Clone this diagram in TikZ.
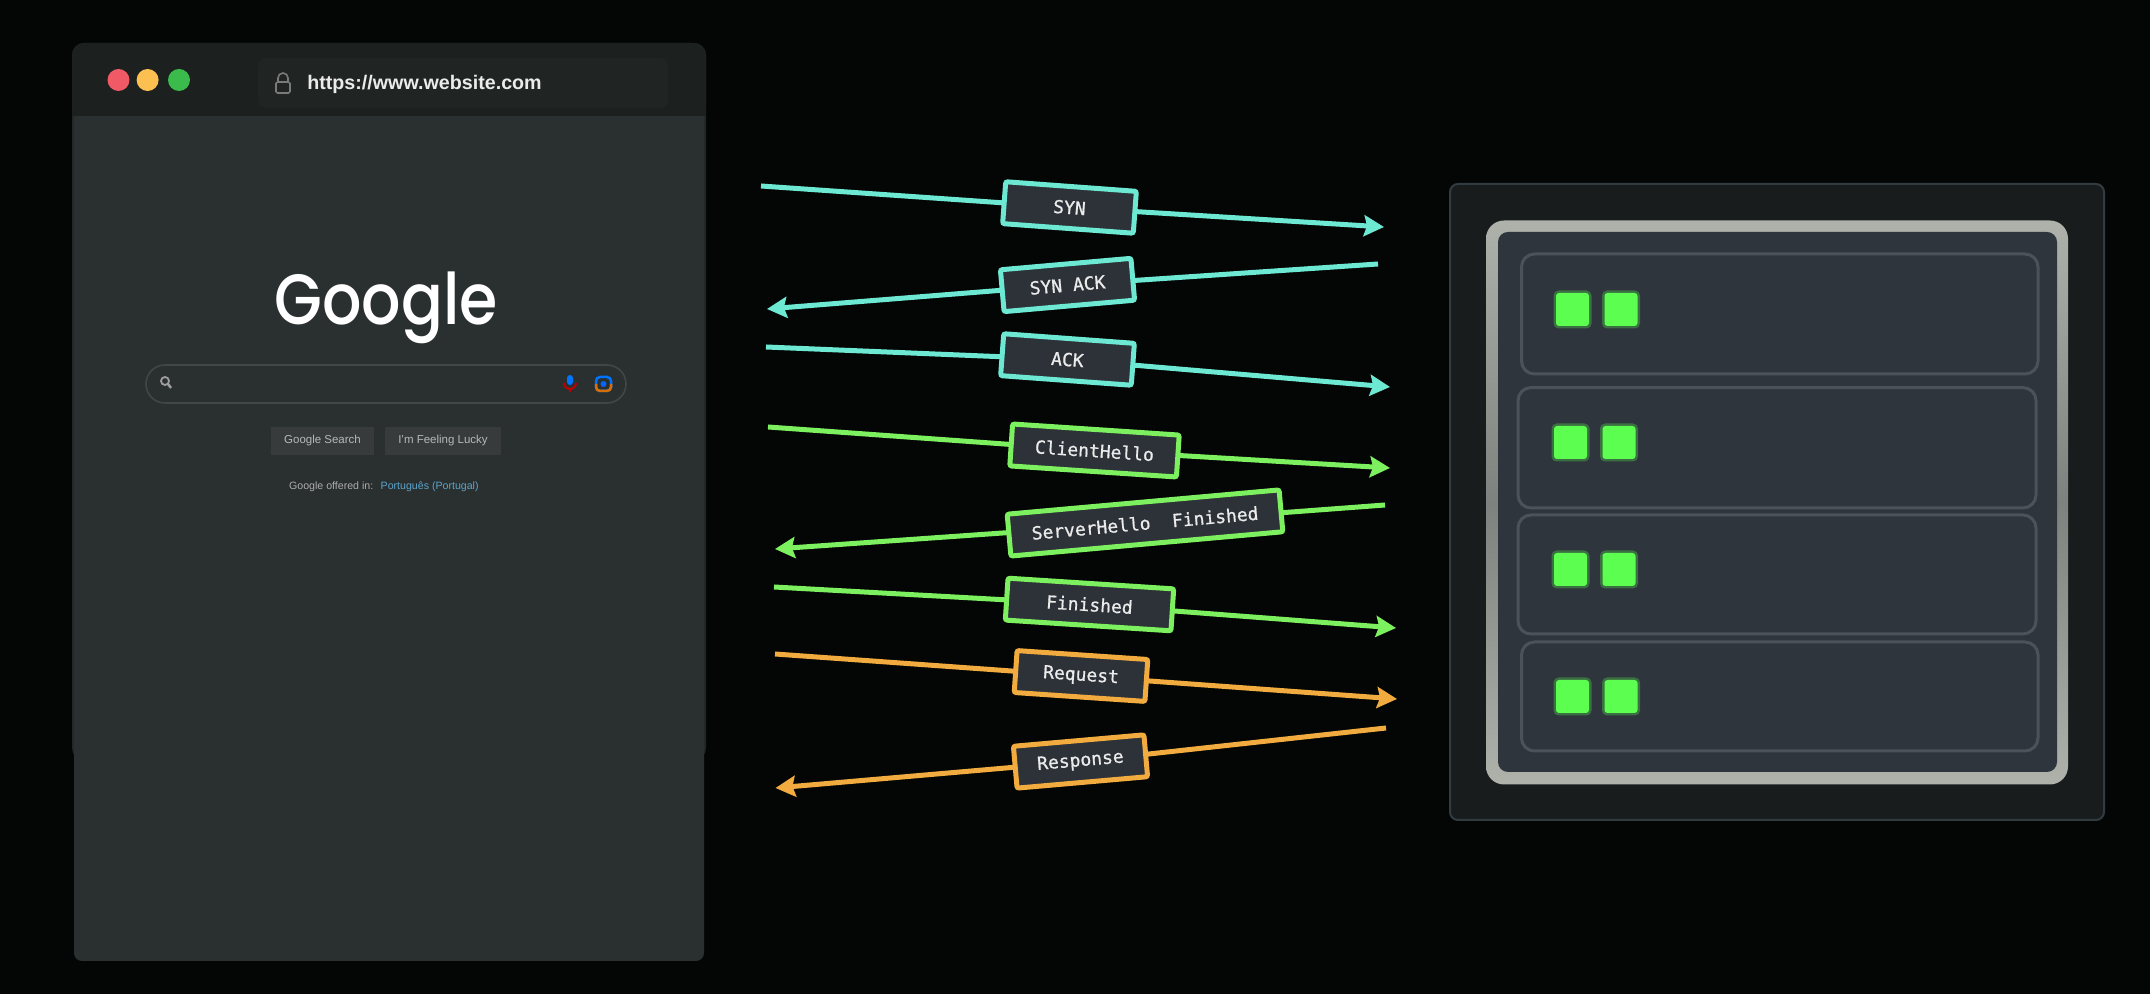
\documentclass[tikz,border=0pt]{standalone}
\usepackage{fontspec}
\setmainfont{Liberation Sans}
\setmonofont{DejaVu Sans Mono}
\newfontfamily\logofont{Poppins Medium}
\newfontfamily\pktfont{DejaVu Sans Mono}[FakeBold=0.8]
\usetikzlibrary{arrows.meta}

\definecolor{pagebg}{HTML}{040606}
\definecolor{browserbody}{HTML}{2A2F2F}
\definecolor{browsertop}{HTML}{1C201F}
\definecolor{browseredge}{HTML}{222727}
\definecolor{urlbg}{HTML}{202423}
\definecolor{btnbg}{HTML}{373B3B}
\definecolor{barline}{HTML}{414646}
\definecolor{closered}{HTML}{F05A66}
\definecolor{minyellow}{HTML}{FBC04F}
\definecolor{zoomgreen}{HTML}{3BBB4B}
\definecolor{rackouter}{HTML}{181C1C}
\definecolor{rackedge}{HTML}{323C40}
\definecolor{rackinner}{HTML}{2E353C}
\definecolor{slotedge}{HTML}{4C525A}
\definecolor{metallight}{HTML}{AEB2AB}
\definecolor{metaldark}{HTML}{7E827E}
\definecolor{ledgreen}{HTML}{5CFF50}
\definecolor{pktbg}{HTML}{2D3238}
\definecolor{tcpcol}{HTML}{6DE8D2}
\definecolor{tlscol}{HTML}{7DF05F}
\definecolor{httpcol}{HTML}{F2AB3E}

\tikzset{
  pkt/.style={draw, fill=pktbg, line width=0.05cm, rounded corners=0.02cm, inner sep=0cm, outer sep=0cm,
    minimum width=1.31cm, minimum height=0.42cm, text=white!92!black,
    font=\pktfont\fontsize{5.12pt}{6pt}\selectfont},
  wire/.style={line width=0.05cm},
  wirearrow/.style={wire, -{Stealth[length=0.2cm,width=0.21cm,inset=0.03cm]}},
  rackslot/.style={draw=slotedge, fill=rackinner, line width=0.03cm, rounded corners=0.13cm},
  led/.style={fill=ledgreen, rounded corners=0.03cm, minimum width=0.33cm, minimum height=0.33cm, inner sep=0cm,
    preaction={draw=ledgreen, opacity=0.3, line width=0.05cm}},
  dot/.style={circle, minimum size=0.22cm, inner sep=0cm},
  btn/.style={fill=btnbg, text=white!72!black, inner sep=0cm, minimum height=0.28cm,
    font=\fontsize{3.27pt}{4pt}\selectfont},
  smalltext/.style={inner sep=0cm, font=\fontsize{3.02pt}{4pt}\selectfont},
}

\begin{document}
\begin{tikzpicture}
  \useasboundingbox (0cm,0cm) rectangle (21.5cm,-9.94cm);
  \fill[pagebg] (0cm,0cm) rectangle (21.5cm,-9.94cm);

  % browser window
  \fill[browseredge, rounded corners=0.12cm] (0.72cm,-0.43cm) rectangle (7.06cm,-7.6cm);
  \fill[browserbody, rounded corners=0.08cm] (0.74cm,-1cm) rectangle (7.04cm,-9.61cm);
  \fill[browsertop, rounded corners=0.12cm] (0.72cm,-0.43cm) rectangle (7.06cm,-1.16cm);
  \fill[browsertop] (0.72cm,-0.9cm) rectangle (7.06cm,-1.16cm);
  \node[dot, fill=closered] (closedot) at (1.185cm,-0.8cm) {};
  \node[dot, fill=minyellow] (minimizedot) at (1.476cm,-0.8cm) {};
  \node[dot, fill=zoomgreen] (zoomdot) at (1.79cm,-0.8cm) {};
  \fill[urlbg, rounded corners=0.08cm] (2.58cm,-0.58cm) rectangle (6.68cm,-1.08cm);
  \draw[white!48!black, line width=0.016cm, rounded corners=0.015cm] (2.76cm,-0.82cm) rectangle (2.9cm,-0.93cm);
  \draw[white!48!black, line width=0.016cm] (2.78cm,-0.82cm) -- (2.78cm,-0.78cm) arc (180:0:0.05cm) -- (2.88cm,-0.82cm);
  \node[text=white!92!black, inner sep=0cm, font=\bfseries\fontsize{5.6pt}{7pt}\selectfont] (urltext) at (4.245cm,-0.84cm) {https://www.website.com};

  % search page
  \node[text=white, inner sep=0cm, anchor=base, yscale=1.15, transform shape, font=\logofont\fontsize{17.6pt}{22pt}\selectfont] (logotext) at (3.86cm,-3.25cm) {Google};
  \filldraw[fill=browserbody, draw=barline, line width=0.016cm, rounded corners=0.19cm] (1.46cm,-3.65cm) rectangle (6.26cm,-4.03cm);
  \draw[white!62!black, line width=0.018cm] (1.65cm,-3.81cm) circle (0.04cm);
  \draw[white!62!black, line width=0.025cm] (1.68cm,-3.84cm) -- (1.71cm,-3.88cm);
  \fill[blue!55!cyan, rounded corners=0.03cm] (5.67cm,-3.75cm) rectangle (5.73cm,-3.85cm);
  \draw[red!75!black, line width=0.02cm] (5.64cm,-3.83cm) arc (180:360:0.06cm);
  \draw[red!75!black, line width=0.02cm] (5.7cm,-3.89cm) -- (5.7cm,-3.92cm);
  \filldraw[fill=browserbody, draw=blue!55!cyan, line width=0.025cm, rounded corners=0.04cm] (5.96cm,-3.77cm) rectangle (6.11cm,-3.91cm);
  \draw[orange!80!browserbody, line width=0.025cm, rounded corners=0.04cm] (5.96cm,-3.84cm) |- (6.11cm,-3.91cm) -- (6.11cm,-3.84cm);
  \fill[blue!60!cyan] (6.035cm,-3.84cm) circle (0.03cm);
  \node[btn, minimum width=1.03cm] (searchbtn) at (3.225cm,-4.41cm) {Google Search};
  \node[btn, minimum width=1.16cm] (luckybtn) at (4.43cm,-4.41cm) {I'm Feeling Lucky};
  \node[smalltext, text=white!68!black, anchor=east] (offertext) at (3.74cm,-4.87cm) {Google offered in:};
  \node[smalltext, text=blue!35!cyan!55!white!80!black, anchor=west] (langtext) at (3.8cm,-4.87cm) {Português (Portugal)};

  % server
  \filldraw[fill=rackouter, draw=rackedge, line width=0.02cm, rounded corners=0.08cm] (14.5cm,-1.84cm) rectangle (21.04cm,-8.2cm);
  \shade[top color=metallight, bottom color=metallight, middle color=metaldark, rounded corners=0.18cm] (14.86cm,-2.205cm) rectangle (20.68cm,-7.845cm);
  \fill[rackinner, rounded corners=0.1cm] (14.98cm,-2.32cm) rectangle (20.57cm,-7.72cm);
  \filldraw[rackslot] (15.215cm,-2.54cm) rectangle (20.38cm,-3.74cm);
  \filldraw[rackslot] (15.18cm,-3.876cm) rectangle (20.36cm,-5.08cm);
  \filldraw[rackslot] (15.18cm,-5.15cm) rectangle (20.36cm,-6.34cm);
  \filldraw[rackslot] (15.215cm,-6.42cm) rectangle (20.38cm,-7.51cm);
  \node[led] (led1a) at (15.725cm,-3.095cm) {};
  \node[led] (led1b) at (16.21cm,-3.095cm) {};
  \node[led] (led2a) at (15.705cm,-4.425cm) {};
  \node[led] (led2b) at (16.19cm,-4.425cm) {};
  \node[led] (led3a) at (15.705cm,-5.695cm) {};
  \node[led] (led3b) at (16.19cm,-5.695cm) {};
  \node[led] (led4a) at (15.725cm,-6.965cm) {};
  \node[led] (led4b) at (16.21cm,-6.965cm) {};

  % handshake messages
  \node[pkt, draw=tcpcol, rotate=-4.2] (syn) at (10.695cm,-2.075cm) {SYN};
  \node[pkt, draw=tcpcol, rotate=5] (synack) at (10.675cm,-2.85cm) {SYN ACK};
  \node[pkt, draw=tcpcol, rotate=-4.2] (ack) at (10.675cm,-3.595cm) {ACK};
  \node[pkt, draw=tlscol, rotate=-3.8, minimum width=1.67cm] (clienthello) at (10.945cm,-4.505cm) {ClientHello};
  \node[pkt, draw=tlscol, rotate=5.1, minimum width=2.73cm] (serverhello) at (11.45cm,-5.23cm) {ServerHello~~Finished};
  \node[pkt, draw=tlscol, rotate=-3.7, minimum width=1.66cm] (finished) at (10.895cm,-6.045cm) {Finished};
  \node[pkt, draw=httpcol, rotate=-3.9] (request) at (10.81cm,-6.76cm) {Request};
  \node[pkt, draw=httpcol, rotate=5] (response) at (10.805cm,-7.615cm) {Response};

  \coordinate (synfrom) at (7.61cm,-1.86cm);
  \coordinate (synto) at (13.84cm,-2.27cm);
  \coordinate (synackfrom) at (13.78cm,-2.64cm);
  \coordinate (synackto) at (7.67cm,-3.09cm);
  \coordinate (ackfrom) at (7.66cm,-3.47cm);
  \coordinate (ackto) at (13.9cm,-3.87cm);
  \coordinate (clientfrom) at (7.68cm,-4.27cm);
  \coordinate (clientto) at (13.9cm,-4.68cm);
  \coordinate (serverfrom) at (13.85cm,-5.05cm);
  \coordinate (serverto) at (7.75cm,-5.49cm);
  \coordinate (finishedfrom) at (7.74cm,-5.87cm);
  \coordinate (finishedto) at (13.96cm,-6.28cm);
  \coordinate (requestfrom) at (7.75cm,-6.54cm);
  \coordinate (requestto) at (13.97cm,-6.99cm);
  \coordinate (responsefrom) at (13.86cm,-7.28cm);
  \coordinate (responseto) at (7.755cm,-7.88cm);

  \draw[wire, tcpcol] (synfrom) -- (syn);
  \draw[wirearrow, tcpcol] (syn) -- (synto);
  \draw[wire, tcpcol] (synackfrom) -- (synack);
  \draw[wirearrow, tcpcol] (synack) -- (synackto);
  \draw[wire, tcpcol] (ackfrom) -- (ack);
  \draw[wirearrow, tcpcol] (ack) -- (ackto);
  \draw[wire, tlscol] (clientfrom) -- (clienthello);
  \draw[wirearrow, tlscol] (clienthello) -- (clientto);
  \draw[wire, tlscol] (serverfrom) -- (serverhello);
  \draw[wirearrow, tlscol] (serverhello) -- (serverto);
  \draw[wire, tlscol] (finishedfrom) -- (finished);
  \draw[wirearrow, tlscol] (finished) -- (finishedto);
  \draw[wire, httpcol] (requestfrom) -- (request);
  \draw[wirearrow, httpcol] (request) -- (requestto);
  \draw[wire, httpcol] (responsefrom) -- (response);
  \draw[wirearrow, httpcol] (response) -- (responseto);
\end{tikzpicture}
\end{document}
